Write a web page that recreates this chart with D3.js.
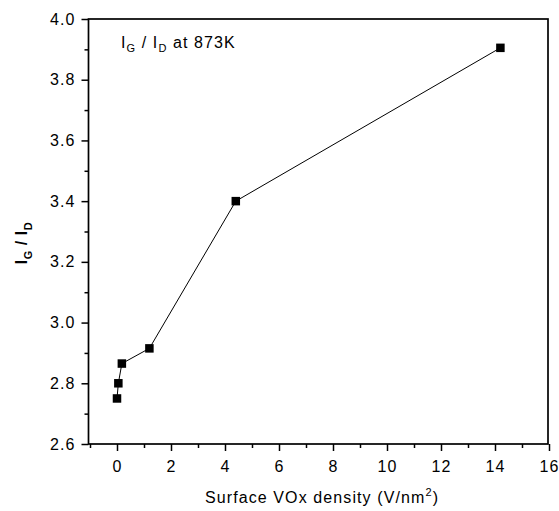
<!DOCTYPE html>
<html>
<head>
<meta charset="utf-8">
<script src="https://cdn.jsdelivr.net/npm/d3@7"></script>
<style>
  body { margin: 0; background: #fff; }
  text { font-family: "Liberation Sans", Arial, sans-serif; }
</style>
</head>
<body>
<div id="chart"></div>
<script>
// data
const density = [0, 0.05, 0.18, 1.2, 4.4, 14.2];
const ratio = [2.75, 2.80, 2.865, 2.915, 3.40, 3.905];
const xTicks = [0, 2, 4, 6, 8, 10, 12, 14, 16];
const yTicks = [2.6, 2.8, 3.0, 3.2, 3.4, 3.6, 3.8, 4.0];

const W = 559, H = 511;
const mLeft = 88.5, mRight = 548, mTop = 19, mBottom = 444;

var svg = d3.select("#chart").append("svg")
    .attr("width", W)
    .attr("height", H);

var x = d3.scaleLinear().domain([-1, 16]).range([mLeft + 1.5, mRight + 1]);
var y = d3.scaleLinear().domain([2.6, 4.0]).range([mBottom, mTop]);

// minor ticks x
svg.append("g")
    .attr("transform", "translate(0," + mBottom + ")")
    .call(d3.axisBottom(x).tickValues(d3.range(-1, 16, 2)).tickSize(4).tickFormat(""))
    .call(g => g.select(".domain").remove())
    .call(g => g.selectAll("line").attr("stroke-width", 1.5));

// major ticks x
svg.append("g")
    .attr("transform", "translate(0," + mBottom + ")")
    .call(d3.axisBottom(x).tickValues(xTicks).tickSize(7).tickPadding(10).tickFormat(d3.format("d")))
    .call(g => g.select(".domain").remove())
    .call(g => g.selectAll("line").attr("stroke-width", 1.5))
    .call(g => g.selectAll("text").attr("font-size", 16).attr("letter-spacing", 1.1).attr("fill", "#000"));

// minor ticks y
svg.append("g")
    .attr("transform", "translate(" + mLeft + ",0)")
    .call(d3.axisLeft(y).tickValues(d3.range(2.7, 4.0, 0.2)).tickSize(4).tickFormat(""))
    .call(g => g.select(".domain").remove())
    .call(g => g.selectAll("line").attr("stroke-width", 1.5));

// major ticks y
svg.append("g")
    .attr("transform", "translate(" + mLeft + ",0)")
    .call(d3.axisLeft(y).tickValues(yTicks).tickSize(7).tickPadding(6).tickFormat(d3.format(".1f")))
    .call(g => g.select(".domain").remove())
    .call(g => g.selectAll("line").attr("stroke-width", 1.5))
    .call(g => g.selectAll("text").attr("font-size", 16).attr("letter-spacing", 1.1).attr("fill", "#000"));

// frame
svg.append("rect")
    .attr("x", mLeft)
    .attr("y", mTop)
    .attr("width", mRight - mLeft)
    .attr("height", mBottom - mTop)
    .attr("fill", "none")
    .attr("stroke", "#000")
    .attr("stroke-width", 1.7);

// line
var pts = density.map((d, i) => [d, ratio[i]]);
svg.append("path")
    .datum(pts)
    .attr("fill", "none")
    .attr("stroke", "#000")
    .attr("stroke-width", 1)
    .attr("d", d3.line().x(d => x(d[0])).y(d => y(d[1])));

// square markers
var s = 8.5;
svg.append("g")
    .selectAll("rect")
    .data(pts)
    .enter()
    .append("rect")
    .attr("x", d => x(d[0]) - s / 2)
    .attr("y", d => y(d[1]) - s / 2)
    .attr("width", s)
    .attr("height", s)
    .attr("fill", "#000");

// annotation
var ann = svg.append("text")
    .attr("x", 121)
    .attr("y", 48)
    .attr("font-size", 16)
    .attr("letter-spacing", 1.1);
ann.append("tspan").text("I");
ann.append("tspan").attr("font-size", 11).attr("dy", 4).text("G");
ann.append("tspan").attr("dy", -4).text(" / I");
ann.append("tspan").attr("font-size", 11).attr("dy", 4).text("D");
ann.append("tspan").attr("dy", -4).text(" at 873K");

// x-axis label
var xl = svg.append("text")
    .attr("x", 322)
    .attr("y", 503)
    .attr("text-anchor", "middle")
    .attr("font-size", 16)
    .attr("letter-spacing", 1.1);
xl.append("tspan").text("Surface VOx density (V/nm");
xl.append("tspan").attr("font-size", 11).attr("dy", -7).text("2");
xl.append("tspan").attr("dy", 7).text(")");

// y-axis label
var yl = svg.append("text")
    .attr("transform", "translate(27," + 243 + ") rotate(-90)")
    .attr("text-anchor", "middle")
    .attr("font-size", 16)
    .attr("font-weight", "bold")
    .attr("letter-spacing", 0.5);
yl.append("tspan").text("I");
yl.append("tspan").attr("font-size", 11).attr("dy", 5).text("G");
yl.append("tspan").attr("dy", -5).text(" / I");
yl.append("tspan").attr("font-size", 11).attr("dy", 5).text("D");
</script>
</body>
</html>
